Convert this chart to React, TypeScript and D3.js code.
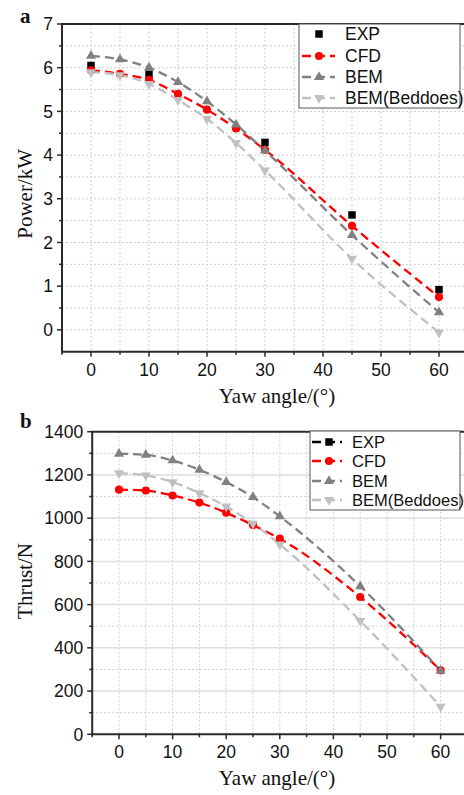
import React from "react";
import * as d3 from "d3";

// ---------- data ----------
const yaw = [0, 5, 10, 15, 20, 25, 30, 45, 60];
const expYaw = [0, 10, 30, 45, 60];

const powerExp = [6.05, 5.85, 4.29, 2.63, 0.92];
const powerCfd = [5.94, 5.86, 5.72, 5.4, 5.04, 4.61, 4.12, 2.38, 0.75];
const powerBem = [6.27, 6.19, 6.0, 5.67, 5.23, 4.7, 4.1, 2.17, 0.4];
const powerBeddoes = [5.9, 5.83, 5.63, 5.26, 4.83, 4.28, 3.65, 1.63, -0.06];

const thrustExp: number[] = [];
const thrustCfd = [1132, 1128, 1105, 1072, 1025, 968, 905, 635, 296];
const thrustBem = [1298, 1293, 1267, 1224, 1167, 1097, 1008, 685, 294];
const thrustBeddoes = [1208, 1198, 1167, 1116, 1054, 975, 879, 525, 128];

const xTicks = [0, 10, 20, 30, 40, 50, 60];
const powerTicks = [0, 1, 2, 3, 4, 5, 6, 7];
const thrustTicks = [0, 200, 400, 600, 800, 1000, 1200, 1400];
const seriesNames = ["EXP", "CFD", "BEM", "BEM(Beddoes)"];

// ---------- styles ----------
const COLORS = ["#000000", "#ff0000", "#808080", "#c0c0c0"];
const SYMBOLS = ["square", "circle", "up", "down"];
const SANS = "'Liberation Sans', Arial, Helvetica, sans-serif";
const SERIF = "'Liberation Serif', 'Times New Roman', Times, serif";
const AXIS = "#2a2a2a";

function marker(kind: string, x: number, y: number, color: string, key: string) {
  let path = "";
  if (kind === "square") path = d3.symbol(d3.symbolSquare, 56)()!;
  else if (kind === "circle") path = d3.symbol(d3.symbolCircle, 52)()!;
  else path = d3.symbol(d3.symbolTriangle, 44)()!;
  const rot = kind === "down" ? " rotate(180)" : "";
  return <path key={key} d={path} transform={`translate(${x},${y})${rot}`} fill={color} />;
}

type Cfg = {
  letter: string;
  letterY: number;
  left: number;
  right: number;
  top: number;
  bottom: number;
  yDomain: [number, number];
  yTicks: number[];
  yMinorStep: number;
  solidMajor: boolean;
  yLabel: string;
  series: { x: number[]; y: number[]; line: boolean }[];
  legend: { x0: number; x1: number; y0: number; y1: number; rows: number[]; lx0: number; lx1: number; mx: number; tx: number; fs: number; expLine: boolean };
};

function Panel({ c }: { c: Cfg }) {
  const x = d3.scaleLinear().domain([-5, 65]).range([c.left, c.right]);
  const y = d3.scaleLinear().domain(c.yDomain).range([c.bottom, c.top]);
  const line = d3
    .line<[number, number]>()
    .x((d) => x(d[0]))
    .y((d) => y(d[1]))
    .curve(d3.curveMonotoneX);

  const vGrid = d3.range(0, 65.1, 5);
  const hGrid = d3.range(c.yDomain[0] + c.yMinorStep, c.yDomain[1] + 1e-9, c.yMinorStep).filter((v) => v < c.yDomain[1] - 1e-9);
  const xMinor = d3.range(-5, 65.1, 5).filter((v) => !xTicks.includes(v));
  const yMinor = hGrid.filter((v) => !c.yTicks.includes(Math.round(v * 1000) / 1000));
  const isMajor = (v: number) => c.yTicks.some((t) => Math.abs(t - v) < 1e-6);
  const midY = (c.top + c.bottom) / 2;
  const L = c.legend;

  return (
    <g>
      {/* grid */}
      {vGrid.map((v) => (
        <line key={"vg" + v} x1={x(v)} x2={x(v)} y1={c.top} y2={c.bottom} stroke="#cfcfcf" strokeWidth={1} strokeDasharray="2,2" />
      ))}
      {hGrid.map((v) =>
        c.solidMajor && isMajor(v) ? (
          <line key={"hg" + v} x1={c.left} x2={c.right} y1={y(v)} y2={y(v)} stroke="#dedede" strokeWidth={1.5} />
        ) : (
          <line key={"hg" + v} x1={c.left} x2={c.right} y1={y(v)} y2={y(v)} stroke="#cfcfcf" strokeWidth={1} strokeDasharray="2,2" />
        )
      )}

      {/* series */}
      {c.series.map((s, i) =>
        s.line && s.x.length > 1 ? (
          <path
            key={"ln" + i}
            d={line(s.x.map((xv, j) => [xv, s.y[j]] as [number, number]))!}
            fill="none"
            stroke={COLORS[i]}
            strokeWidth={2.3}
            strokeDasharray="9,5"
          />
        ) : null
      )}
      {c.series.map((s, i) => s.x.map((xv, j) => marker(SYMBOLS[i], x(xv), y(s.y[j]), COLORS[i], `m${i}-${j}`)))}

      {/* axes */}
      <line x1={c.left} x2={c.left} y1={c.top} y2={c.bottom + 1} stroke={AXIS} strokeWidth={2} />
      <line x1={c.left - 1} x2={c.right} y1={c.bottom} y2={c.bottom} stroke={AXIS} strokeWidth={2} />
      <line x1={c.left - 1} x2={c.right} y1={c.top} y2={c.top} stroke={AXIS} strokeWidth={2} />

      {c.yTicks.map((t) => (
        <g key={"yt" + t}>
          <line x1={c.left - 5} x2={c.left} y1={y(t)} y2={y(t)} stroke={AXIS} strokeWidth={1.5} />
          <text x={c.left - 9} y={y(t)} dy="0.36em" textAnchor="end" fontFamily={SANS} fontSize={17.5} fill="#111">
            {t}
          </text>
        </g>
      ))}
      {yMinor.map((t) => (
        <line key={"ym" + t} x1={c.left - 3} x2={c.left} y1={y(t)} y2={y(t)} stroke={AXIS} strokeWidth={1.5} />
      ))}
      {xTicks.map((t) => (
        <g key={"xt" + t}>
          <line x1={x(t)} x2={x(t)} y1={c.bottom} y2={c.bottom + 5} stroke={AXIS} strokeWidth={1.5} />
          <text x={x(t)} y={c.bottom + 24} textAnchor="middle" fontFamily={SANS} fontSize={17.5} fill="#111">
            {t}
          </text>
        </g>
      ))}
      {xMinor.map((t) => (
        <line key={"xm" + t} x1={x(t)} x2={x(t)} y1={c.bottom} y2={c.bottom + 3} stroke={AXIS} strokeWidth={1.5} />
      ))}

      {/* labels */}
      <text
        transform={`translate(32,${midY + (c.letter === "a" ? 6 : -2)}) rotate(-90)`}
        textAnchor="middle"
        fontFamily={SERIF}
        fontSize={21}
        fill="#111"
      >
        {c.yLabel}
      </text>
      <text x={277} y={c.bottom + 51} textAnchor="middle" fontFamily={SERIF} fontSize={21} fill="#111">
        Yaw angle/(°)
      </text>
      <text x={20} y={c.letterY} fontFamily={SERIF} fontWeight="bold" fontSize={21} fill="#111">
        {c.letter}
      </text>

      {/* legend */}
      <rect x={L.x0} y={L.y0} width={L.x1 - L.x0} height={L.y1 - L.y0} fill="#fff" stroke="#555" strokeWidth={1} />
      {seriesNames.map((n, i) => (
        <g key={"lg" + i}>
          {(i > 0 || L.expLine) && (
            <line x1={L.lx0} x2={L.lx1} y1={L.rows[i]} y2={L.rows[i]} stroke={COLORS[i]} strokeWidth={2.3} strokeDasharray="9,5" />
          )}
          {marker(SYMBOLS[i], L.mx, L.rows[i], COLORS[i], "lm" + i)}
          <text x={L.tx} y={L.rows[i]} dy="0.36em" fontFamily={SANS} fontSize={L.fs} fill="#111">
            {n}
          </text>
        </g>
      ))}
    </g>
  );
}

const panelA: Cfg = {
  letter: "a",
  letterY: 23,
  left: 62,
  right: 468,
  top: 24,
  bottom: 351.7,
  yDomain: [-0.5, 7],
  yTicks: powerTicks,
  yMinorStep: 0.5,
  solidMajor: false,
  yLabel: "Power/kW",
  series: [
    { x: expYaw, y: powerExp, line: false },
    { x: yaw, y: powerCfd, line: true },
    { x: yaw, y: powerBem, line: true },
    { x: yaw, y: powerBeddoes, line: true },
  ],
  legend: { x0: 299, x1: 460, y0: 24, y1: 108, rows: [34, 56, 77, 98], lx0: 302, lx1: 335, mx: 319, tx: 345, fs: 17.5, expLine: false },
};

const panelB: Cfg = {
  letter: "b",
  letterY: 428,
  left: 92.2,
  right: 467.4,
  top: 431.7,
  bottom: 734.3,
  yDomain: [0, 1400],
  yTicks: thrustTicks,
  yMinorStep: 100,
  solidMajor: true,
  yLabel: "Thrust/N",
  series: [
    { x: [], y: thrustExp, line: true },
    { x: yaw, y: thrustCfd, line: true },
    { x: yaw, y: thrustBem, line: true },
    { x: yaw, y: thrustBeddoes, line: true },
  ],
  legend: { x0: 310, x1: 460, y0: 431, y1: 510, rows: [442, 461, 481, 500], lx0: 312, lx1: 342, mx: 329, tx: 352, fs: 16.5, expLine: true },
};

export default function App() {
  return (
    <svg width={464} height={795} style={{ position: "absolute", left: 0, top: 0, background: "#fff" }}>
      <rect width={464} height={795} fill="#fff" />
      <Panel c={panelA} />
      <Panel c={panelB} />
    </svg>
  );
}
